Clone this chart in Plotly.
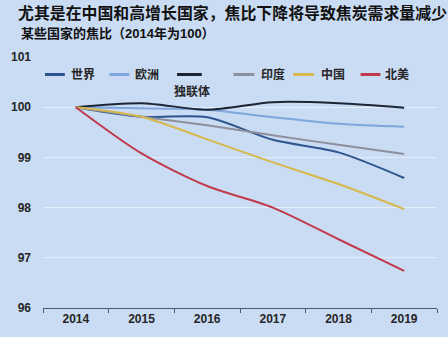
import plotly.graph_objects as go

# Coke rate by region, index 2014 = 100
years = ["2014", "2015", "2016", "2017", "2018", "2019"]
names = ["世界", "欧洲", "独联体", "印度", "中国", "北美"]
world = [100.0, 99.81, 99.80, 99.35, 99.10, 98.59]
europe = [100.0, 99.98, 99.95, 99.80, 99.67, 99.61]
cis = [100.0, 100.08, 99.95, 100.10, 100.08, 99.99]
india = [100.0, 99.81, 99.64, 99.44, 99.25, 99.07]
china = [100.0, 99.81, 99.36, 98.90, 98.47, 97.97]
north_america = [100.0, 99.08, 98.43, 98.00, 97.37, 96.74]
y_ticks = [96, 97, 98, 99, 100, 101]

series = [world, europe, cis, india, china, north_america]
colors = ["#2f5590", "#7fa6de", "#1c2535", "#8d8f9c", "#d6b84c", "#c03a4c"]

BG = "#c9dcf3"
TXT = "#262626"
FONT = "Liberation Sans, Noto Sans CJK SC, sans-serif"

fig = go.Figure()
for name, vals, col in zip(names, series, colors):
    fig.add_trace(go.Scatter(
        x=years, y=vals, mode="lines", name=name,
        line=dict(color=col, width=2, shape="spline", smoothing=0.8),
        showlegend=False, hoverinfo="skip",
    ))

# plot area in pixels: x 40..437, y 57..315
L, R, T, B = 40, 437, 57, 315
W, H = 448, 337


def px(x):
    return (x - L) / (R - L)


def py(y):
    return (B - y) / (B - T)


# hand-placed legend: swatch start/end and label position (pixels)
legend_items = [
    (42, 62, 66, 75, "left"),
    (107, 127, 131, 75, "left"),
    (175, 200, 190, 92, "center"),
    (232, 253, 258, 75, "left"),
    (292, 313, 318, 75, "left"),
    (360, 380, 383, 75, "left"),
]
for (x0, x1, tx, ty, al), name, col in zip(legend_items, names, colors):
    fig.add_shape(type="line", xref="paper", yref="paper",
                  x0=px(x0), x1=px(x1), y0=py(75), y1=py(75),
                  line=dict(color=col, width=3))
    fig.add_annotation(xref="paper", yref="paper", x=px(tx),
                       y=py(ty), text=name, showarrow=False,
                       xanchor="center" if al == "center" else "left",
                       yanchor="middle",
                       font=dict(family=FONT, size=12, color=TXT, weight="bold"))

fig.add_annotation(xref="paper", yref="paper", x=px(14), y=py(12),
                   text="尤其是在中国和高增长国家，焦比下降将导致焦炭需求量减少",
                   showarrow=False, xanchor="left", yanchor="middle",
                   borderpad=0,
                   font=dict(family=FONT, size=15.9, color="#111111", weight="bold"))
fig.add_annotation(xref="paper", yref="paper", x=px(17), y=py(33),
                   text="某些国家的焦比（2014年为100）",
                   showarrow=False, xanchor="left", yanchor="middle",
                   borderpad=0,
                   font=dict(family=FONT, size=13, color="#111111", weight="bold"))

fig.update_layout(
    width=W, height=H,
    margin=dict(l=L, r=W - R, t=T, b=H - B, pad=0),
    paper_bgcolor=BG, plot_bgcolor=BG,
    font=dict(family=FONT, color=TXT),
    xaxis=dict(
        type="category", tickson="boundaries", range=[-0.5, 5.5],
        showgrid=False, showline=True, linecolor="#4b5a6e", linewidth=1,
        ticks="outside", ticklen=4, tickcolor="#4b5a6e",
        tickfont=dict(size=12, color=TXT, weight="bold"),
        zeroline=False, fixedrange=True,
    ),
    yaxis=dict(
        range=[96, 101], tickvals=y_ticks, ticktext=[str(v) for v in y_ticks],
        showgrid=True, gridcolor="#e4eefb", gridwidth=1,
        showline=False, ticks="", ticklabelstandoff=11,
        tickfont=dict(size=12, color=TXT, weight="bold"),
        zeroline=False, fixedrange=True,
    ),
)

fig.write_html("out.html")
